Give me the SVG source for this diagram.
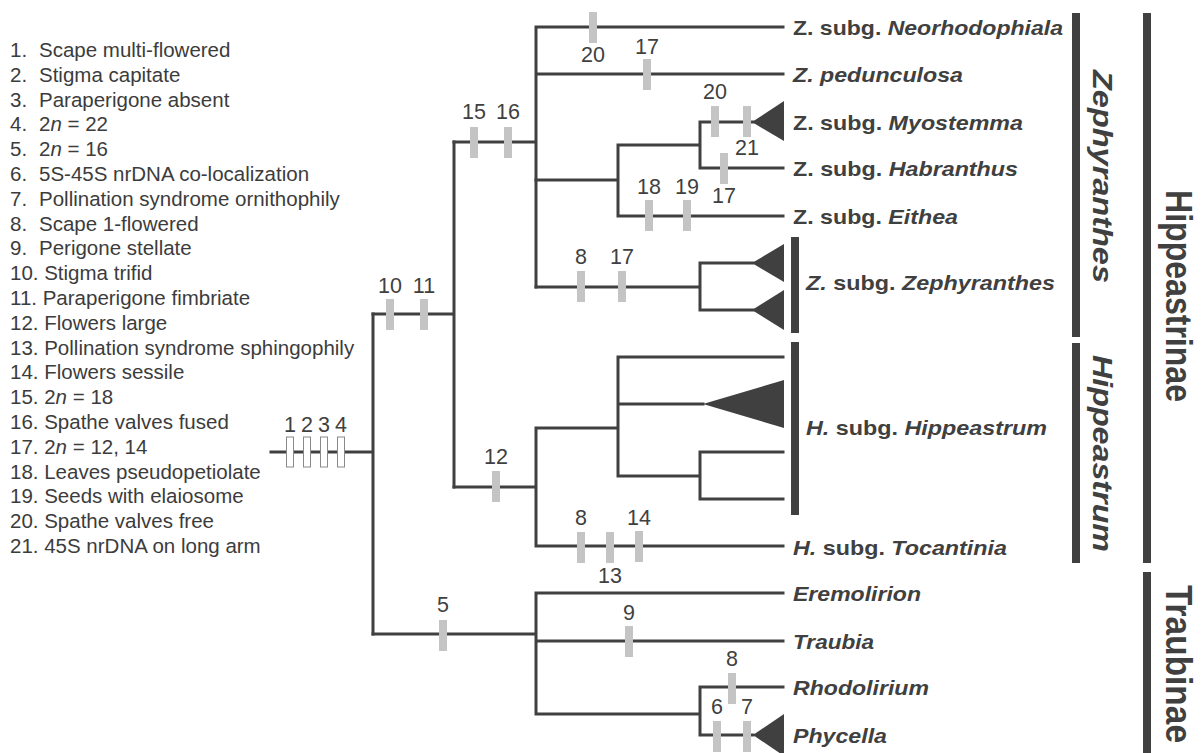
<svg xmlns="http://www.w3.org/2000/svg" width="1201" height="753" viewBox="0 0 1201 753">
<style>
.ln{stroke:#404040;stroke-width:3;fill:none;stroke-linecap:square}
.mk{fill:#c4c4c4}
.bx{fill:#fff;stroke:#8a8a8a;stroke-width:1}
.tri{fill:#404040}
.bar{fill:#404040}
.num{font-family:"Liberation Sans",Arial,sans-serif;font-size:21.5px;fill:#404040;text-anchor:middle}
.leg{font-family:"Liberation Sans",Arial,sans-serif;font-size:20.5px;fill:#3c3c3c}
.tx{font-family:"Liberation Sans",Arial,sans-serif;font-size:21px;font-weight:bold;fill:#404040}
.vt{font-family:"Liberation Sans",Arial,sans-serif;font-weight:bold;fill:#404040}
.i{font-style:italic}
</style>
<rect width="1201" height="753" fill="#fff"/>

<g id="legend" class="leg">
<text x="10" y="57">1.<tspan x="39">Scape multi-flowered</tspan></text>
<text x="10" y="81.8">2.<tspan x="39">Stigma capitate</tspan></text>
<text x="10" y="106.6">3.<tspan x="39">Paraperigone absent</tspan></text>
<text x="10" y="131.4">4.<tspan x="39">2</tspan><tspan class="i">n</tspan> = 22</text>
<text x="10" y="156.2">5.<tspan x="39">2</tspan><tspan class="i">n</tspan> = 16</text>
<text x="10" y="181">6.<tspan x="39">5S-45S nrDNA co-localization</tspan></text>
<text x="10" y="205.8">7.<tspan x="39">Pollination syndrome ornithophily</tspan></text>
<text x="10" y="230.6">8.<tspan x="39">Scape 1-flowered</tspan></text>
<text x="10" y="255.4">9.<tspan x="39">Perigone stellate</tspan></text>
<text x="10" y="280.2">10. Stigma trifid</text>
<text x="10" y="305">11. Paraperigone fimbriate</text>
<text x="10" y="329.8">12. Flowers large</text>
<text x="10" y="354.6">13. Pollination syndrome sphingophily</text>
<text x="10" y="379.4">14. Flowers sessile</text>
<text x="10" y="404.2">15. 2<tspan class="i">n</tspan> = 18</text>
<text x="10" y="429">16. Spathe valves fused</text>
<text x="10" y="453.8">17. 2<tspan class="i">n</tspan> = 12, 14</text>
<text x="10" y="478.6">18. Leaves pseudopetiolate</text>
<text x="10" y="503.4">19. Seeds with elaiosome</text>
<text x="10" y="528.2">20. Spathe valves free</text>
<text x="10" y="553">21. 45S nrDNA on long arm</text>
</g>

<g id="connectors">
<path class="ln" d="M271 452H373M373 314V634"/>
<path class="ln" d="M373 314H454M454 142V487"/>
<path class="ln" d="M454 142H536M536 27V287M536 27H783M536 74H783"/>
<path class="ln" d="M536 180H618M618 145V216M618 145H700M700 122V168M700 122H753M700 168H783M618 216H783"/>
<path class="ln" d="M536 287H700M700 263V310M700 263H753M700 310H753"/>
<path class="ln" d="M454 487H536M536 428V546M536 428H618M618 357V476M618 357H783M618 404H703M618 476H700M700 452V499M700 452H783M700 499H783M536 546H783"/>
<path class="ln" d="M373 634H536M536 593V714M536 593H783M536 641H783M536 714H700M700 687V735M700 687H783M700 735H753"/>
</g>

<g id="root-characters">
<rect class="bx" x="286.5" y="437" width="7" height="30"/>
<rect class="bx" x="303.5" y="437" width="7" height="30"/>
<rect class="bx" x="320.5" y="437" width="7" height="30"/>
<rect class="bx" x="337.5" y="437" width="7" height="30"/>
<g class="num"><text x="290" y="432">1</text><text x="307" y="432">2</text><text x="324" y="432">3</text><text x="341" y="432">4</text></g>
</g>

<g id="characters">
<g class="mk">
<rect x="589" y="12" width="8" height="31"/>
<rect x="643" y="59" width="8" height="31"/>
<rect x="470" y="127" width="8" height="31"/>
<rect x="504" y="127" width="8" height="31"/>
<rect x="711" y="106" width="8" height="31"/>
<rect x="743" y="106" width="8" height="31"/>
<rect x="720" y="153" width="8" height="31"/>
<rect x="645" y="200" width="8" height="31"/>
<rect x="683" y="200" width="8" height="31"/>
<rect x="577" y="271" width="8" height="31"/>
<rect x="618" y="271" width="8" height="31"/>
<rect x="386" y="299" width="8" height="31"/>
<rect x="420" y="299" width="8" height="31"/>
<rect x="492" y="471" width="8" height="31"/>
<rect x="577" y="532" width="8" height="31"/>
<rect x="606" y="532" width="8" height="31"/>
<rect x="635" y="531" width="8" height="31"/>
<rect x="439" y="620" width="8" height="31"/>
<rect x="625" y="626" width="8" height="31"/>
<rect x="728" y="673" width="8" height="31"/>
<rect x="713" y="721" width="8" height="31"/>
<rect x="743" y="721" width="8" height="31"/>
</g>
<g class="num">
<text x="593" y="62">20</text>
<text x="647" y="54">17</text>
<text x="474" y="119">15</text>
<text x="508" y="119">16</text>
<text x="715" y="99">20</text>
<text x="747" y="155">21</text>
<text x="724" y="203">17</text>
<text x="649" y="194">18</text>
<text x="687" y="194">19</text>
<text x="581" y="264">8</text>
<text x="622" y="264">17</text>
<text x="390" y="293">10</text>
<text x="424" y="293">11</text>
<text x="496" y="464">12</text>
<text x="581" y="525">8</text>
<text x="639" y="525">14</text>
<text x="610" y="583">13</text>
<text x="443" y="612">5</text>
<text x="629" y="620">9</text>
<text x="732" y="666">8</text>
<text x="717" y="714">6</text>
<text x="747" y="714">7</text>
</g>
</g>

<g id="node-neorhodophiala"><text class="tx" x="793" y="35" textLength="270" lengthAdjust="spacingAndGlyphs">Z. subg. <tspan class="i">Neorhodophiala</tspan></text></g>
<g id="node-pedunculosa"><text class="tx i" x="793" y="82" textLength="170" lengthAdjust="spacingAndGlyphs">Z. pedunculosa</text></g>
<g id="node-myostemma"><polygon class="tri" points="752,122 784,101 784,141"/><text class="tx" x="793" y="130" textLength="230" lengthAdjust="spacingAndGlyphs">Z. subg. <tspan class="i">Myostemma</tspan></text></g>
<g id="node-habranthus"><text class="tx" x="793" y="176" textLength="225" lengthAdjust="spacingAndGlyphs">Z. subg. <tspan class="i">Habranthus</tspan></text></g>
<g id="node-eithea"><text class="tx" x="793" y="224" textLength="165" lengthAdjust="spacingAndGlyphs">Z. subg. <tspan class="i">Eithea</tspan></text></g>
<g id="node-zephyranthes-subg">
<polygon class="tri" points="752,263 784,244 784,282"/>
<polygon class="tri" points="752,310 784,290 784,330"/>
<rect class="bar" x="791" y="237" width="8" height="96"/>
<text class="tx" x="806" y="290" textLength="249" lengthAdjust="spacingAndGlyphs"><tspan class="i">Z.</tspan> subg. <tspan class="i">Zephyranthes</tspan></text>
</g>
<g id="node-hippeastrum-subg">
<polygon class="tri" points="703,404 784,380 784,428"/>
<rect class="bar" x="791" y="342" width="8" height="173"/>
<text class="tx" x="806" y="435" textLength="241" lengthAdjust="spacingAndGlyphs"><tspan class="i">H.</tspan> subg. <tspan class="i">Hippeastrum</tspan></text>
</g>
<g id="node-tocantinia"><text class="tx" x="793" y="555" textLength="214" lengthAdjust="spacingAndGlyphs"><tspan class="i">H.</tspan> subg. <tspan class="i">Tocantinia</tspan></text></g>
<g id="node-eremolirion"><text class="tx i" x="793" y="601" textLength="128" lengthAdjust="spacingAndGlyphs">Eremolirion</text></g>
<g id="node-traubia"><text class="tx i" x="793" y="649" textLength="81" lengthAdjust="spacingAndGlyphs">Traubia</text></g>
<g id="node-rhodolirium"><text class="tx i" x="793" y="695" textLength="136" lengthAdjust="spacingAndGlyphs">Rhodolirium</text></g>
<g id="node-phycella"><polygon class="tri" points="753,735 784,714 784,756"/><text class="tx i" x="793" y="743" textLength="94" lengthAdjust="spacingAndGlyphs">Phycella</text></g>

<g id="group-zephyranthes">
<rect class="bar" x="1072" y="13" width="8" height="324"/>
<text class="vt i" transform="translate(1093,70) rotate(90)" font-size="27" textLength="213" lengthAdjust="spacingAndGlyphs">Zephyranthes</text>
</g>
<g id="group-hippeastrum">
<rect class="bar" x="1072" y="343" width="8" height="220"/>
<text class="vt i" transform="translate(1093,355) rotate(90)" font-size="27" textLength="197" lengthAdjust="spacingAndGlyphs">Hippeastrum</text>
</g>
<g id="group-hippeastrinae">
<rect class="bar" x="1143" y="13" width="8" height="550"/>
<text class="vt" transform="translate(1166,190) rotate(90)" font-size="36" textLength="212" lengthAdjust="spacingAndGlyphs">Hippeastrinae</text>
</g>
<g id="group-traubinae">
<rect class="bar" x="1143" y="572" width="8" height="181"/>
<text class="vt" transform="translate(1166,585) rotate(90)" font-size="36" textLength="158" lengthAdjust="spacingAndGlyphs">Traubinae</text>
</g>
</svg>
